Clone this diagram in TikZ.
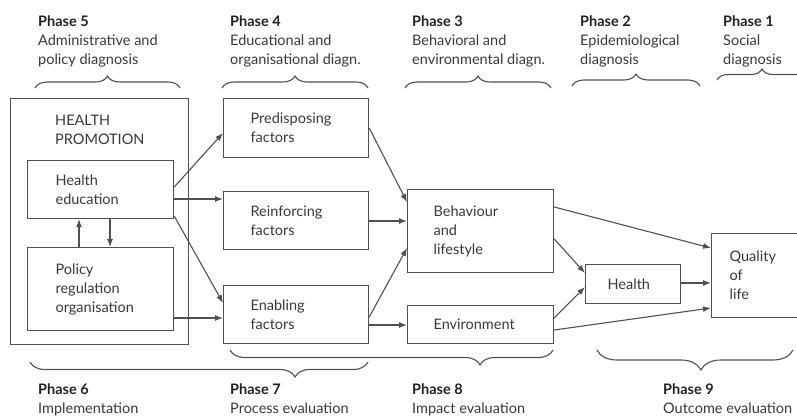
\documentclass[tikz,border=0pt]{standalone}
\usepackage{fontspec}
\setmainfont{Lato}
\usetikzlibrary{calc,decorations.pathreplacing,arrows.meta}
\definecolor{ln}{HTML}{505050}
\definecolor{tx}{HTML}{383838}
\definecolor{hd}{HTML}{222222}
\begin{document}
\begin{tikzpicture}[x=1pt,y=-1pt,
  every node/.style={font=\fontsize{14.5}{19}\selectfont, text=tx},
  box/.style={draw=ln, line width=1.2pt, align=left, anchor=north west, inner ysep=0pt},
  arr/.style={draw=ln, line width=1.1pt, -{Latex[length=8pt,width=6pt]}},
  br/.style n args={2}{draw=ln, line width=1.1pt, decorate, decoration={brace, amplitude=#1, aspect=#2}},
  lab/.style={anchor=north west, inner sep=0pt, align=left},
]
\useasboundingbox (0,0) rectangle (797,419);

% outer box
\node[box, minimum width=178pt, minimum height=246pt] (hp) at (10,98) {};
\node[lab] (hptxt) at (55,115) {HEALTH\\PROMOTION};

% boxes
\node[box, minimum width=146pt, minimum height=58pt, inner xsep=28pt, text width=90pt] (he) at (27,160) {Health\\education};
\node[box, minimum width=146pt, minimum height=83pt, inner xsep=28pt, text width=90pt] (pol) at (27,247) {Policy\\regulation\\organisation};
\node[box, minimum width=145pt, minimum height=59pt, inner xsep=27pt, text width=91pt] (pre) at (223,98) {Predisposing\\factors};
\node[box, minimum width=145pt, minimum height=58pt, inner xsep=27pt, text width=91pt] (rei) at (223,191) {Reinforcing\\factors};
\node[box, minimum width=145pt, minimum height=58pt, inner xsep=27pt, text width=91pt] (ena) at (223,285) {Enabling\\factors};
\node[box, minimum width=146pt, minimum height=83pt, inner xsep=26pt, text width=94pt] (beh) at (407,189) {Behaviour\\and\\lifestyle};
\node[box, minimum width=146pt, minimum height=38pt, inner xsep=26pt, text width=94pt] (env) at (407,305) {Environment};
\node[box, minimum width=95pt, minimum height=39pt, inner xsep=22pt, text width=51pt] (hea) at (585,264) {Health};
\node[box, minimum width=89pt, minimum height=84pt, inner xsep=18pt, text width=53pt] (qol) at (711,233) {Quality\\of\\life};

% arrows
\draw[arr] ($(he.north east)+(0,27)$) -- ($(pre.north west)+(0,35)$);
\draw[arr] ($(he.north east)+(0,39)$) -- ($(rei.north west)+(0,8)$);
\draw[arr] ($(he.north east)+(0,56)$) -- ($(ena.north west)+(0,18)$);
\draw[arr] ($(pol.north east)+(0,71)$) -- ($(ena.north west)+(0,33)$);
\draw[arr] ($(pol.north west)+(52,0)$) -- ($(he.south west)+(52,0)$);
\draw[arr] ($(he.south west)+(83,0)$) -- ($(pol.north west)+(83,0)$);
\draw[arr] ($(pre.north east)+(0,30)$) -- ($(beh.north west)+(0,13)$);
\draw[arr] ($(rei.north east)+(0,30)$) -- ($(beh.north west)+(0,32)$);
\draw[arr] ($(ena.north east)+(0,32)$) -- ($(beh.north west)+(0,59)$);
\draw[arr] ($(ena.north east)+(0,40)$) -- ($(env.north west)+(0,20)$);
\draw[arr] ($(beh.north east)+(0,18)$) -- ($(qol.north west)+(0,15)$);
\draw[arr] ($(beh.north east)+(0,50)$) -- ($(hea.north west)+(0,9)$);
\draw[arr] ($(env.north east)+(0,13)$) -- ($(hea.north west)+(0,23)$);
\draw[arr] ($(hea.north east)+(0,19)$) -- ($(qol.north west)+(0,50)$);
\draw[arr] ($(env.north east)+(0,25)$) -- ($(qol.north west)+(0,75)$);

% top labels
\node[lab] (p5) at (38,16) {\textbf{\color{hd}Phase 5}\\Administrative and\\policy diagnosis};
\node[lab] (p4) at (230,16) {\textbf{\color{hd}Phase 4}\\Educational and\\organisational diagn.};
\node[lab] (p3) at (412,16) {\textbf{\color{hd}Phase 3}\\Behavioral and\\environmental diagn.};
\node[lab] (p2) at (580,16) {\textbf{\color{hd}Phase 2}\\Epidemiological\\diagnosis};
\node[lab] (p1) at (723,16) {\textbf{\color{hd}Phase 1}\\Social\\diagnosis};

% top braces
\draw[br={12pt}{0.5}] (35,88) -- (180,88);
\draw[br={12pt}{0.5}] (222,88) -- (368,88);
\draw[br={12pt}{0.5}] (405,88) -- (551,88);
\draw[br={12pt}{0.5}] (572,86) -- (700,86);
\draw[br={11pt}{0.5}] (717,80) -- (807,80);

% bottom braces
\draw[br={15pt}{0.216}] (368,362) -- (30,362);
\draw[br={15pt}{0.226}] (553,350) -- (230,350);
\draw[br={20pt}{0.47}] (793,350) -- (597,350);

% bottom labels
\node[lab] (p6) at (38,384) {\textbf{\color{hd}Phase 6}\\Implementation};
\node[lab] (p7) at (230,384) {\textbf{\color{hd}Phase 7}\\Process evaluation};
\node[lab] (p8) at (412,384) {\textbf{\color{hd}Phase 8}\\Impact evaluation};
\node[lab] (p9) at (663,384) {\textbf{\color{hd}Phase 9}\\Outcome evaluation};
\end{tikzpicture}
\end{document}
